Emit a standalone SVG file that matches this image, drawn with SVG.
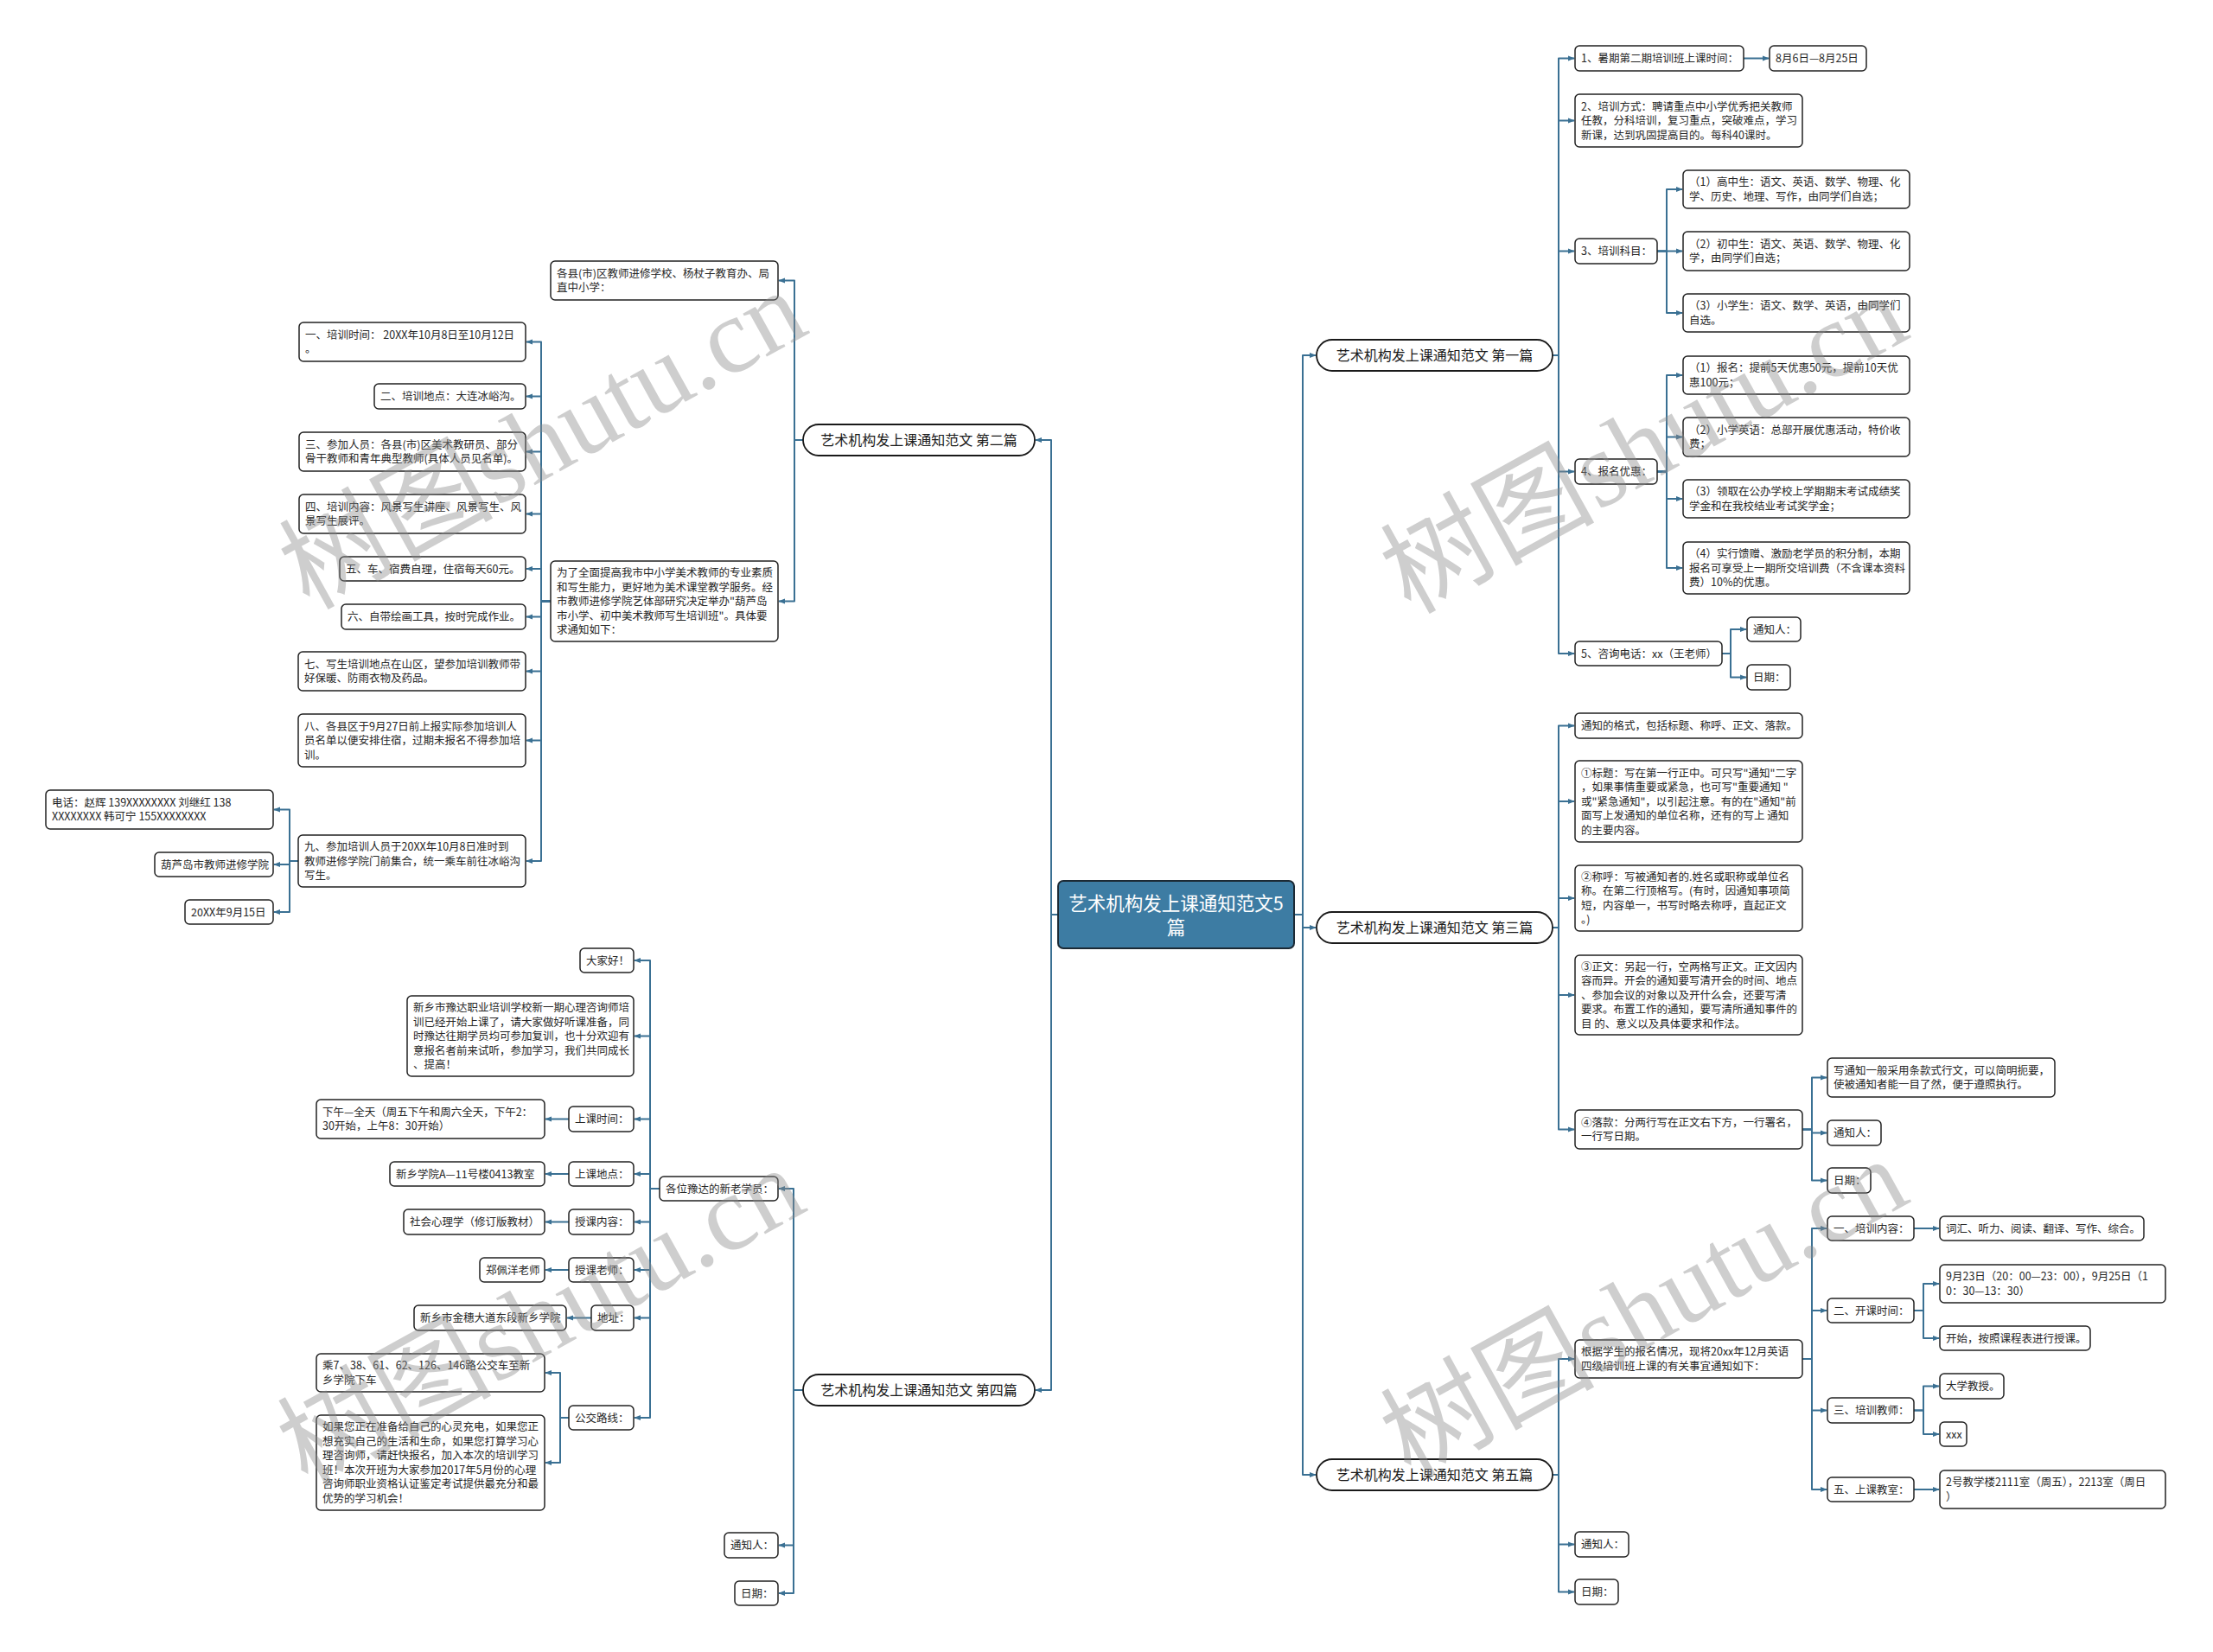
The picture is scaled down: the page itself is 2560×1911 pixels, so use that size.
<svg xmlns="http://www.w3.org/2000/svg" width="2560" height="1911" viewBox="0 0 2560 1911">
<style>
.bx{fill:#fff;stroke:#222;stroke-width:1.5}
.pill{fill:#fff;stroke:#1a1a1a;stroke-width:1.8}
.root{fill:#3d7ca3;stroke:#1c2a35;stroke-width:2}
.t{font-family:"Noto Sans CJK SC","Microsoft YaHei",sans-serif;font-size:12.5px;fill:#262626}
.pt{font-family:"Noto Sans CJK SC","Microsoft YaHei",sans-serif;font-size:16px;fill:#1a1a1a;text-anchor:middle}
.rt{font-family:"Noto Sans CJK SC","Microsoft YaHei",sans-serif;font-size:21.5px;fill:#fff;text-anchor:middle}
.c path{fill:none;stroke:#3a7093;stroke-width:2;stroke-linejoin:round;marker-end:url(#a)}
.wm{font-family:"Liberation Serif","Noto Sans CJK SC",serif;font-size:124px;fill:#8c8c8c;opacity:0.42;text-anchor:middle}
</style>
<defs>
<marker id="a" viewBox="0 0 10 10" refX="9" refY="5" markerWidth="8" markerHeight="8" markerUnits="userSpaceOnUse" orient="auto"><path d="M0,1.2 L10,5 L0,8.8 z" fill="#3a7093"/></marker>
</defs>
<rect width="2560" height="1911" fill="#fff"/>
<g class="c" id="connectors">
<path d="M1497 1058 H1507 V411 H1522"/>
<path d="M1497 1058 H1507 V1073 H1522"/>
<path d="M1497 1058 H1507 V1706 H1522"/>
<path d="M1224 1058 H1216 V509 H1198"/>
<path d="M1224 1058 H1216 V1608 H1198"/>
<path d="M1796 411 H1803 V67.5 H1821"/>
<path d="M1796 411 H1803 V139.5 H1821"/>
<path d="M1796 411 H1803 V290.5 H1821"/>
<path d="M1796 411 H1803 V545.5 H1821"/>
<path d="M1796 411 H1803 V756 H1821"/>
<path d="M2017 67.5 H2046"/>
<path d="M1917 290.5 H1928 V219 H1946"/>
<path d="M1917 290.5 H1946"/>
<path d="M1917 290.5 H1928 V362 H1946"/>
<path d="M1917 545.5 H1928 V434 H1946"/>
<path d="M1917 545.5 H1928 V505.5 H1946"/>
<path d="M1917 545.5 H1928 V577 H1946"/>
<path d="M1917 545.5 H1928 V657 H1946"/>
<path d="M1992 756 H2002 V728 H2020"/>
<path d="M1992 756 H2002 V783.5 H2020"/>
<path d="M1796 1073 H1803 V839.5 H1821"/>
<path d="M1796 1073 H1803 V927 H1821"/>
<path d="M1796 1073 H1803 V1039 H1821"/>
<path d="M1796 1073 H1803 V1151 H1821"/>
<path d="M1796 1073 H1803 V1306.5 H1821"/>
<path d="M2085 1306.5 H2096 V1246.5 H2113"/>
<path d="M2085 1306.5 H2096 V1310.5 H2113"/>
<path d="M2085 1306.5 H2096 V1365.5 H2113"/>
<path d="M1796 1706 H1803 V1572 H1821"/>
<path d="M1796 1706 H1803 V1786.5 H1821"/>
<path d="M1796 1706 H1803 V1841.5 H1821"/>
<path d="M2085 1572 H2096 V1421 H2113"/>
<path d="M2085 1572 H2096 V1516 H2113"/>
<path d="M2085 1572 H2096 V1631.5 H2113"/>
<path d="M2085 1572 H2096 V1723 H2113"/>
<path d="M2214 1421 H2243"/>
<path d="M2214 1516 H2225 V1485 H2243"/>
<path d="M2214 1516 H2225 V1548 H2243"/>
<path d="M2214 1631.5 H2225 V1603.5 H2243"/>
<path d="M2214 1631.5 H2225 V1659 H2243"/>
<path d="M2214 1723 H2243"/>
<path d="M929 509 H919 V324.5 H901"/>
<path d="M929 509 H919 V695.5 H901"/>
<path d="M637 695.5 H626 V395.5 H609"/>
<path d="M637 695.5 H626 V458.5 H609"/>
<path d="M637 695.5 H626 V522.5 H609"/>
<path d="M637 695.5 H626 V594.5 H609"/>
<path d="M637 695.5 H626 V658 H609"/>
<path d="M637 695.5 H626 V713.5 H609"/>
<path d="M637 695.5 H626 V776.5 H609"/>
<path d="M637 695.5 H626 V856.5 H609"/>
<path d="M637 695.5 H626 V996 H609"/>
<path d="M345 996 H335 V936.5 H317"/>
<path d="M345 996 H335 V1000 H317"/>
<path d="M345 996 H335 V1055 H317"/>
<path d="M929 1608 H918 V1375 H901"/>
<path d="M929 1608 H918 V1787.5 H901"/>
<path d="M929 1608 H918 V1843 H901"/>
<path d="M763 1375 H752 V1111 H734"/>
<path d="M763 1375 H752 V1198.5 H734"/>
<path d="M763 1375 H752 V1294.5 H734"/>
<path d="M763 1375 H752 V1358 H734"/>
<path d="M763 1375 H752 V1413.5 H734"/>
<path d="M763 1375 H752 V1469 H734"/>
<path d="M763 1375 H752 V1524.5 H734"/>
<path d="M763 1375 H752 V1640 H734"/>
<path d="M658 1294.5 H631"/>
<path d="M658 1358 H631"/>
<path d="M658 1413.5 H631"/>
<path d="M658 1469 H631"/>
<path d="M684 1524.5 H656"/>
<path d="M658 1640 H648 V1588 H631"/>
<path d="M658 1640 H648 V1692 H631"/>
</g>

<g id="root-node"><rect class="root" x="1224" y="1019" width="273" height="78" rx="6"/><text class="rt" x="1360.5" y="1053">艺术机构发上课通知范文5</text><text class="rt" x="1360.5" y="1081">篇</text></g>

<g id="branch1"><rect class="pill" x="1523" y="393" width="273" height="36" rx="18"/><text class="pt" x="1659.5" y="416.5">艺术机构发上课通知范文 第一篇</text></g>
<g id="branch2"><rect class="pill" x="929" y="491" width="268" height="36" rx="18"/><text class="pt" x="1063" y="514.5">艺术机构发上课通知范文 第二篇</text></g>
<g id="branch3"><rect class="pill" x="1523" y="1055" width="273" height="36" rx="18"/><text class="pt" x="1659.5" y="1078.5">艺术机构发上课通知范文 第三篇</text></g>
<g id="branch4"><rect class="pill" x="929" y="1590" width="268" height="36" rx="18"/><text class="pt" x="1063" y="1613.5">艺术机构发上课通知范文 第四篇</text></g>
<g id="branch5"><rect class="pill" x="1523" y="1688" width="273" height="36" rx="18"/><text class="pt" x="1659.5" y="1711.5">艺术机构发上课通知范文 第五篇</text></g>

<g id="n1a"><rect class="bx" x="1822" y="53" width="195" height="29" rx="5"/><text class="t" x="1829" y="72">1、暑期第二期培训班上课时间：</text></g>
<g id="n1a1"><rect class="bx" x="2047" y="53" width="112" height="29" rx="5"/><text class="t" x="2054" y="72">8月6日—8月25日</text></g>
<g id="n1b"><rect class="bx" x="1822" y="109" width="263" height="61" rx="5"/><text class="t" x="1829" y="127.5"><tspan x="1829">2、培训方式：聘请重点中小学优秀把关教师</tspan><tspan x="1829" dy="16.5">任教，分科培训，复习重点，突破难点，学习</tspan><tspan x="1829" dy="16.5">新课，达到巩固提高目的。每科40课时。</tspan></text></g>
<g id="n1c"><rect class="bx" x="1822" y="276" width="95" height="29" rx="5"/><text class="t" x="1829" y="295">3、培训科目：</text></g>
<g id="n1c1"><rect class="bx" x="1947" y="197" width="262" height="44" rx="5"/><text class="t" x="1954" y="215.2"><tspan x="1954">（1）高中生：语文、英语、数学、物理、化</tspan><tspan x="1954" dy="16.5">学、历史、地理、写作，由同学们自选；</tspan></text></g>
<g id="n1c2"><rect class="bx" x="1947" y="268" width="262" height="45" rx="5"/><text class="t" x="1954" y="286.7"><tspan x="1954">（2）初中生：语文、英语、数学、物理、化</tspan><tspan x="1954" dy="16.5">学，由同学们自选；</tspan></text></g>
<g id="n1c3"><rect class="bx" x="1947" y="340" width="262" height="44" rx="5"/><text class="t" x="1954" y="358.2"><tspan x="1954">（3）小学生：语文、数学、英语，由同学们</tspan><tspan x="1954" dy="16.5">自选。</tspan></text></g>
<g id="n1d"><rect class="bx" x="1822" y="531" width="95" height="29" rx="5"/><text class="t" x="1829" y="550">4、报名优惠：</text></g>
<g id="n1d1"><rect class="bx" x="1947" y="412" width="262" height="44" rx="5"/><text class="t" x="1954" y="430.2"><tspan x="1954">（1）报名：提前5天优惠50元，提前10天优</tspan><tspan x="1954" dy="16.5">惠100元；</tspan></text></g>
<g id="n1d2"><rect class="bx" x="1947" y="483" width="262" height="45" rx="5"/><text class="t" x="1954" y="501.7"><tspan x="1954">（2）小学英语：总部开展优惠活动，特价收</tspan><tspan x="1954" dy="16.5">费；</tspan></text></g>
<g id="n1d3"><rect class="bx" x="1947" y="555" width="262" height="44" rx="5"/><text class="t" x="1954" y="573.2"><tspan x="1954">（3）领取在公办学校上学期期末考试成绩奖</tspan><tspan x="1954" dy="16.5">学金和在我校结业考试奖学金；</tspan></text></g>
<g id="n1d4"><rect class="bx" x="1947" y="627" width="262" height="60" rx="5"/><text class="t" x="1954" y="645"><tspan x="1954">（4）实行馈赠、激励老学员的积分制，本期</tspan><tspan x="1954" dy="16.5">报名可享受上一期所交培训费（不含课本资料</tspan><tspan x="1954" dy="16.5">费）10%的优惠。</tspan></text></g>
<g id="n1e"><rect class="bx" x="1822" y="742" width="170" height="28" rx="5"/><text class="t" x="1829" y="760.5">5、咨询电话：xx（王老师）</text></g>
<g id="n1e1"><rect class="bx" x="2021" y="714" width="62" height="28" rx="5"/><text class="t" x="2028" y="732.5">通知人：</text></g>
<g id="n1e2"><rect class="bx" x="2021" y="769" width="50" height="29" rx="5"/><text class="t" x="2028" y="788">日期：</text></g>

<g id="n3a"><rect class="bx" x="1822" y="825" width="263" height="29" rx="5"/><text class="t" x="1829" y="844">通知的格式，包括标题、称呼、正文、落款。</text></g>
<g id="n3b"><rect class="bx" x="1822" y="880" width="263" height="94" rx="5"/><text class="t" x="1829" y="898.5"><tspan x="1829">①标题：写在第一行正中。可只写"通知"二字</tspan><tspan x="1829" dy="16.5">，如果事情重要或紧急，也可写"重要通知 "</tspan><tspan x="1829" dy="16.5">或"紧急通知"，以引起注意。有的在"通知"前</tspan><tspan x="1829" dy="16.5">面写上发通知的单位名称，还有的写上 通知</tspan><tspan x="1829" dy="16.5">的主要内容。</tspan></text></g>
<g id="n3c"><rect class="bx" x="1822" y="1001" width="263" height="76" rx="5"/><text class="t" x="1829" y="1018.7"><tspan x="1829">②称呼：写被通知者的.姓名或职称或单位名</tspan><tspan x="1829" dy="16.5">称。在第二行顶格写。(有时，因通知事项简</tspan><tspan x="1829" dy="16.5">短，内容单一，书写时略去称呼，直起正文</tspan><tspan x="1829" dy="16.5">。)</tspan></text></g>
<g id="n3d"><rect class="bx" x="1822" y="1105" width="263" height="92" rx="5"/><text class="t" x="1829" y="1122.5"><tspan x="1829">③正文：另起一行，空两格写正文。正文因内</tspan><tspan x="1829" dy="16.5">容而异。开会的通知要写清开会的时间、地点</tspan><tspan x="1829" dy="16.5">、参加会议的对象以及开什么会，还要写清</tspan><tspan x="1829" dy="16.5">要求。布置工作的通知，要写清所通知事件的</tspan><tspan x="1829" dy="16.5">目 的、意义以及具体要求和作法。</tspan></text></g>
<g id="n3e"><rect class="bx" x="1822" y="1284" width="263" height="45" rx="5"/><text class="t" x="1829" y="1302.7"><tspan x="1829">④落款：分两行写在正文右下方，一行署名，</tspan><tspan x="1829" dy="16.5">一行写日期。</tspan></text></g>
<g id="n3e1"><rect class="bx" x="2114" y="1224" width="263" height="45" rx="5"/><text class="t" x="2121" y="1242.7"><tspan x="2121">写通知一般采用条款式行文，可以简明扼要，</tspan><tspan x="2121" dy="16.5">使被通知者能一目了然，便于遵照执行。</tspan></text></g>
<g id="n3e2"><rect class="bx" x="2114" y="1296" width="62" height="29" rx="5"/><text class="t" x="2121" y="1315">通知人：</text></g>
<g id="n3e3"><rect class="bx" x="2114" y="1351" width="50" height="29" rx="5"/><text class="t" x="2121" y="1370">日期：</text></g>

<g id="n5a"><rect class="bx" x="1822" y="1550" width="263" height="44" rx="5"/><text class="t" x="1829" y="1568.2"><tspan x="1829">根据学生的报名情况，现将20xx年12月英语</tspan><tspan x="1829" dy="16.5">四级培训班上课的有关事宜通知如下：</tspan></text></g>
<g id="n5b"><rect class="bx" x="1822" y="1772" width="62" height="29" rx="5"/><text class="t" x="1829" y="1791">通知人：</text></g>
<g id="n5c"><rect class="bx" x="1822" y="1827" width="50" height="29" rx="5"/><text class="t" x="1829" y="1846">日期：</text></g>
<g id="n5a1"><rect class="bx" x="2114" y="1407" width="100" height="28" rx="5"/><text class="t" x="2121" y="1425.5">一、培训内容：</text></g>
<g id="n5a1a"><rect class="bx" x="2244" y="1407" width="236" height="28" rx="5"/><text class="t" x="2251" y="1425.5">词汇、听力、阅读、翻译、写作、综合。</text></g>
<g id="n5a2"><rect class="bx" x="2114" y="1502" width="100" height="28" rx="5"/><text class="t" x="2121" y="1520.5">二、开课时间：</text></g>
<g id="n5a2a"><rect class="bx" x="2244" y="1463" width="261" height="44" rx="5"/><text class="t" x="2251" y="1481.2"><tspan x="2251">9月23日（20：00—23：00），9月25日（1</tspan><tspan x="2251" dy="16.5">0：30—13：30）</tspan></text></g>
<g id="n5a2b"><rect class="bx" x="2244" y="1534" width="174" height="28" rx="5"/><text class="t" x="2251" y="1552.5">开始，按照课程表进行授课。</text></g>
<g id="n5a3"><rect class="bx" x="2114" y="1617" width="100" height="29" rx="5"/><text class="t" x="2121" y="1636">三、培训教师：</text></g>
<g id="n5a3a"><rect class="bx" x="2244" y="1589" width="74" height="29" rx="5"/><text class="t" x="2251" y="1608">大学教授。</text></g>
<g id="n5a3b"><rect class="bx" x="2244" y="1645" width="31" height="28" rx="5"/><text class="t" x="2251" y="1663.5">xxx</text></g>
<g id="n5a4"><rect class="bx" x="2114" y="1709" width="100" height="28" rx="5"/><text class="t" x="2121" y="1727.5">五、上课教室：</text></g>
<g id="n5a4a"><rect class="bx" x="2244" y="1701" width="261" height="44" rx="5"/><text class="t" x="2251" y="1719.2"><tspan x="2251">2号教学楼2111室（周五），2213室（周日</tspan><tspan x="2251" dy="16.5">）</tspan></text></g>

<g id="n2a"><rect class="bx" x="637" y="302" width="263" height="45" rx="5"/><text class="t" x="644" y="320.7"><tspan x="644">各县(市)区教师进修学校、杨杖子教育办、局</tspan><tspan x="644" dy="16.5">直中小学：</tspan></text></g>
<g id="n2b"><rect class="bx" x="637" y="649" width="263" height="93" rx="5"/><text class="t" x="644" y="667"><tspan x="644">为了全面提高我市中小学美术教师的专业素质</tspan><tspan x="644" dy="16.5">和写生能力，更好地为美术课堂教学服务。经</tspan><tspan x="644" dy="16.5">市教师进修学院艺体部研究决定举办"葫芦岛</tspan><tspan x="644" dy="16.5">市小学、初中美术教师写生培训班"。具体要</tspan><tspan x="644" dy="16.5">求通知如下：</tspan></text></g>
<g id="n2b1"><rect class="bx" x="346" y="373" width="262" height="45" rx="5"/><text class="t" x="353" y="391.7"><tspan x="353">一、培训时间： 20XX年10月8日至10月12日</tspan><tspan x="353" dy="16.5">。</tspan></text></g>
<g id="n2b2"><rect class="bx" x="433" y="444" width="175" height="29" rx="5"/><text class="t" x="440" y="463">二、培训地点：大连冰峪沟。</text></g>
<g id="n2b3"><rect class="bx" x="346" y="500" width="262" height="45" rx="5"/><text class="t" x="353" y="518.7"><tspan x="353">三、参加人员：各县(市)区美术教研员、部分</tspan><tspan x="353" dy="16.5">骨干教师和青年典型教师(具体人员见名单)。</tspan></text></g>
<g id="n2b4"><rect class="bx" x="346" y="572" width="262" height="45" rx="5"/><text class="t" x="353" y="590.7"><tspan x="353">四、培训内容：风景写生讲座、风景写生、风</tspan><tspan x="353" dy="16.5">景写生展评。</tspan></text></g>
<g id="n2b5"><rect class="bx" x="393" y="644" width="215" height="28" rx="5"/><text class="t" x="400" y="662.5">五、车、宿费自理，住宿每天60元。</text></g>
<g id="n2b6"><rect class="bx" x="395" y="699" width="213" height="29" rx="5"/><text class="t" x="402" y="718">六、自带绘画工具，按时完成作业。</text></g>
<g id="n2b7"><rect class="bx" x="345" y="754" width="263" height="45" rx="5"/><text class="t" x="352" y="772.7"><tspan x="352">七、写生培训地点在山区，望参加培训教师带</tspan><tspan x="352" dy="16.5">好保暖、防雨衣物及药品。</tspan></text></g>
<g id="n2b8"><rect class="bx" x="345" y="826" width="263" height="61" rx="5"/><text class="t" x="352" y="844.5"><tspan x="352">八、各县区于9月27日前上报实际参加培训人</tspan><tspan x="352" dy="16.5">员名单以便安排住宿，过期未报名不得参加培</tspan><tspan x="352" dy="16.5">训。</tspan></text></g>
<g id="n2b9"><rect class="bx" x="345" y="966" width="263" height="60" rx="5"/><text class="t" x="352" y="984"><tspan x="352">九、参加培训人员于20XX年10月8日准时到</tspan><tspan x="352" dy="16.5">教师进修学院门前集合，统一乘车前往冰峪沟</tspan><tspan x="352" dy="16.5">写生。</tspan></text></g>
<g id="n2b9a"><rect class="bx" x="53" y="914" width="263" height="45" rx="5"/><text class="t" x="60" y="932.7"><tspan x="60">电话：赵辉 139XXXXXXXX 刘继红 138</tspan><tspan x="60" dy="16.5">XXXXXXXX 韩可宁 155XXXXXXXX</tspan></text></g>
<g id="n2b9b"><rect class="bx" x="179" y="986" width="137" height="28" rx="5"/><text class="t" x="186" y="1004.5">葫芦岛市教师进修学院</text></g>
<g id="n2b9c"><rect class="bx" x="214" y="1041" width="102" height="28" rx="5"/><text class="t" x="221" y="1059.5">20XX年9月15日</text></g>

<g id="n4a"><rect class="bx" x="763" y="1361" width="137" height="28" rx="5"/><text class="t" x="770" y="1379.5">各位豫达的新老学员：</text></g>
<g id="n4b"><rect class="bx" x="838" y="1773" width="62" height="29" rx="5"/><text class="t" x="845" y="1792">通知人：</text></g>
<g id="n4c"><rect class="bx" x="850" y="1829" width="50" height="28" rx="5"/><text class="t" x="857" y="1847.5">日期：</text></g>
<g id="n4a1"><rect class="bx" x="671" y="1097" width="62" height="28" rx="5"/><text class="t" x="678" y="1115.5">大家好！</text></g>
<g id="n4a2"><rect class="bx" x="471" y="1152" width="262" height="93" rx="5"/><text class="t" x="478" y="1170"><tspan x="478">新乡市豫达职业培训学校新一期心理咨询师培</tspan><tspan x="478" dy="16.5">训已经开始上课了，请大家做好听课准备，同</tspan><tspan x="478" dy="16.5">时豫达往期学员均可参加复训，也十分欢迎有</tspan><tspan x="478" dy="16.5">意报名者前来试听，参加学习，我们共同成长</tspan><tspan x="478" dy="16.5">、提高！</tspan></text></g>
<g id="n4a3"><rect class="bx" x="658" y="1280" width="75" height="29" rx="5"/><text class="t" x="665" y="1299">上课时间：</text></g>
<g id="n4a3a"><rect class="bx" x="366" y="1272" width="264" height="45" rx="5"/><text class="t" x="373" y="1290.7"><tspan x="373">下午—全天（周五下午和周六全天，下午2：</tspan><tspan x="373" dy="16.5">30开始，上午8：30开始）</tspan></text></g>
<g id="n4a4"><rect class="bx" x="658" y="1344" width="75" height="28" rx="5"/><text class="t" x="665" y="1362.5">上课地点：</text></g>
<g id="n4a4a"><rect class="bx" x="451" y="1344" width="179" height="28" rx="5"/><text class="t" x="458" y="1362.5">新乡学院A—11号楼0413教室</text></g>
<g id="n4a5"><rect class="bx" x="658" y="1399" width="75" height="29" rx="5"/><text class="t" x="665" y="1418">授课内容：</text></g>
<g id="n4a5a"><rect class="bx" x="467" y="1399" width="163" height="29" rx="5"/><text class="t" x="474" y="1418">社会心理学（修订版教材）</text></g>
<g id="n4a6"><rect class="bx" x="658" y="1455" width="75" height="28" rx="5"/><text class="t" x="665" y="1473.5">授课老师：</text></g>
<g id="n4a6a"><rect class="bx" x="555" y="1455" width="75" height="28" rx="5"/><text class="t" x="562" y="1473.5">郑佩洋老师</text></g>
<g id="n4a7"><rect class="bx" x="684" y="1510" width="49" height="29" rx="5"/><text class="t" x="691" y="1529">地址：</text></g>
<g id="n4a7a"><rect class="bx" x="479" y="1510" width="176" height="29" rx="5"/><text class="t" x="486" y="1529">新乡市金穗大道东段新乡学院</text></g>
<g id="n4a8"><rect class="bx" x="658" y="1626" width="75" height="28" rx="5"/><text class="t" x="665" y="1644.5">公交路线：</text></g>
<g id="n4a8a"><rect class="bx" x="366" y="1566" width="264" height="44" rx="5"/><text class="t" x="373" y="1584.2"><tspan x="373">乘7、38、61、62、126、146路公交车至新</tspan><tspan x="373" dy="16.5">乡学院下车</tspan></text></g>
<g id="n4a8b"><rect class="bx" x="366" y="1637" width="264" height="110" rx="5"/><text class="t" x="373" y="1655.2"><tspan x="373">如果您正在准备给自己的心灵充电，如果您正</tspan><tspan x="373" dy="16.5">想充实自己的生活和生命，如果您打算学习心</tspan><tspan x="373" dy="16.5">理咨询师，请赶快报名，加入本次的培训学习</tspan><tspan x="373" dy="16.5">班！本次开班为大家参加2017年5月份的心理</tspan><tspan x="373" dy="16.5">咨询师职业资格认证鉴定考试提供最充分和最</tspan><tspan x="373" dy="16.5">优势的学习机会！</tspan></text></g>

<g id="watermarks">
<text class="wm" transform="translate(648,545) rotate(-29)" x="0" y="0">树图shutu.cn</text>
<text class="wm" transform="translate(1922,550) rotate(-29)" x="0" y="0">树图shutu.cn</text>
<text class="wm" transform="translate(646,1560) rotate(-29)" x="0" y="0">树图shutu.cn</text>
<text class="wm" transform="translate(1922,1550) rotate(-29)" x="0" y="0">树图shutu.cn</text>
</g>
</svg>
